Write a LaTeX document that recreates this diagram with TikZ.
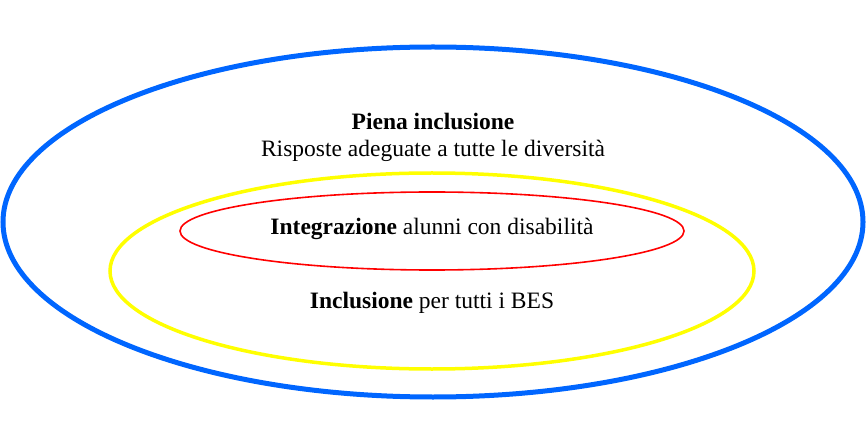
\documentclass[tikz,border=0pt]{standalone}
\usepackage{fontspec}
\setmainfont{Liberation Serif}
\definecolor{bluering}{RGB}{0,102,255}
\definecolor{yellowring}{RGB}{255,255,0}
\definecolor{redring}{RGB}{255,0,0}
\begin{document}
\begin{tikzpicture}[x=1pt,y=-1pt,
  ring/.style={draw,ellipse},
  lbl/.style={font=\fontsize{23.5}{28}\selectfont, inner sep=0pt, anchor=base}]
\useasboundingbox (0,0) rectangle (866,427);
\draw[bluering, line width=5pt] (433,222) ellipse [x radius=430, y radius=175];
\draw[yellowring, line width=3.5pt] (432,271) ellipse [x radius=322, y radius=98];
\draw[redring, line width=1.6pt] (432,231) ellipse [x radius=252, y radius=39];
\node[lbl] (t1) at (433,130) {\textbf{Piena inclusione}};
\node[lbl] (t2) at (433,157) {Risposte adeguate a tutte le diversità};
\node[lbl] (t3) at (432,235) {\textbf{Integrazione} alunni con disabilità};
\node[lbl] (t4) at (432,308) {\textbf{Inclusione} per tutti i BES};
\end{tikzpicture}
\end{document}
